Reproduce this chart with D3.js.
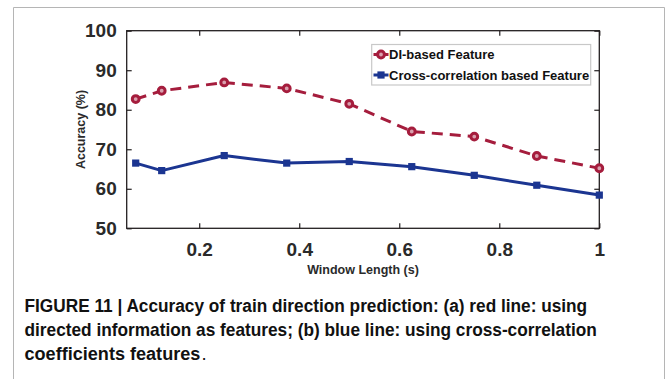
<!DOCTYPE html>
<html>
<head>
<meta charset="utf-8">
<script src="https://cdn.jsdelivr.net/npm/d3@7"></script>
<style>
  html, body { margin: 0; padding: 0; background: #fff; }
  svg { display: block; }
</style>
</head>
<body>
<svg id="fig" width="669" height="379"></svg>
<script>
// Window lengths (s) and accuracies (%) for both feature sets
const windowLength = [0.073, 0.125, 0.25, 0.375, 0.5, 0.625, 0.75, 0.875, 1];
const diAccuracy = [82.7, 84.8, 86.9, 85.4, 81.5, 74.5, 73.2, 68.3, 65.2];
const xcorrAccuracy = [66.5, 64.6, 68.4, 66.5, 66.9, 65.6, 63.4, 60.9, 58.4];
const seriesNames = ["DI-based Feature", "Cross-correlation based Feature"];
const xTicks = [0.2, 0.4, 0.6, 0.8, 1];
const yTicks = [50, 60, 70, 80, 90, 100];
const captionLines = [
  "FIGURE 11 | Accuracy of train direction prediction: (a) red line: using",
  "directed information as features; (b) blue line: using cross-correlation",
  "coefficients features"
];

const RED = "#a51d3d";
const BLUE = "#1b3591";
const INK = "#231f20";
const FONT = "'Liberation Sans', Arial, sans-serif";

const svg = d3.select("#fig");

// outer figure frame (open at the bottom)
svg.append("path")
  .attr("d", "M13.5,379 V7.5 H664.5 V379")
  .attr("fill", "none")
  .attr("stroke", "#b5b5b5")
  .attr("stroke-width", 1);

const plot = { left: 126.7, right: 599.3, top: 30.7, bottom: 228.3 };

const x = d3.scaleLinear().domain([0.055, 1]).range([plot.left, plot.right]);
const y = d3.scaleLinear().domain([50, 100]).range([plot.bottom, plot.top]);

const g = svg.append("g");

// axes with inward ticks on all four sides
const tickLen = 5;
g.append("g")
  .attr("transform", `translate(0,${plot.bottom})`)
  .call(d3.axisBottom(x).tickValues(xTicks).tickSize(-tickLen).tickPadding(14)
    .tickFormat(d => d === 1 ? "1" : d3.format(".1f")(d)))
  .call(a => a.select(".domain").remove())
  .call(a => a.selectAll("text").attr("dy", "0.71em"));
g.append("g")
  .attr("transform", `translate(0,${plot.top})`)
  .call(d3.axisTop(x).tickValues(xTicks).tickSize(-tickLen).tickFormat(""))
  .call(a => a.select(".domain").remove());
g.append("g")
  .attr("transform", `translate(${plot.left},0)`)
  .call(d3.axisLeft(y).tickValues(yTicks).tickSize(-tickLen).tickPadding(10))
  .call(a => a.select(".domain").remove());
g.append("g")
  .attr("transform", `translate(${plot.right},0)`)
  .call(d3.axisRight(y).tickValues(yTicks).tickSize(-tickLen).tickFormat(""))
  .call(a => a.select(".domain").remove());

g.selectAll(".tick line").attr("stroke", INK).attr("stroke-width", 1.2);
g.selectAll(".tick text")
  .attr("fill", "#2a2a2a")
  .style("font-family", FONT)
  .style("font-weight", "bold")
  .style("font-size", "19px");

// plot box
g.append("rect")
  .attr("x", plot.left).attr("y", plot.top)
  .attr("width", plot.right - plot.left).attr("height", plot.bottom - plot.top)
  .attr("fill", "none").attr("stroke", INK).attr("stroke-width", 1.3);

// axis titles
svg.append("text")
  .attr("x", (plot.left + plot.right) / 2).attr("y", 273.5)
  .attr("text-anchor", "middle")
  .attr("fill", "#2a2a2a")
  .style("font-family", FONT)
  .style("font-weight", "bold").style("font-size", "12.5px")
  .text("Window Length (s)");
svg.append("text")
  .attr("transform", `translate(85,${(plot.top + plot.bottom) / 2}) rotate(-90)`)
  .attr("text-anchor", "middle")
  .attr("fill", "#2a2a2a")
  .style("font-family", FONT)
  .style("font-weight", "bold").style("font-size", "12.5px")
  .text("Accuracy (%)");

// series
const line = d3.line().x(d => x(d[0])).y(d => y(d[1]));
const redData = windowLength.map((w, i) => [w, diAccuracy[i]]);
const blueData = windowLength.map((w, i) => [w, xcorrAccuracy[i]]);

g.append("path").datum(blueData).attr("d", line)
  .attr("fill", "none").attr("stroke", BLUE).attr("stroke-width", 3)
  .attr("stroke-linejoin", "round");
g.append("path").datum(redData).attr("d", line)
  .attr("fill", "none").attr("stroke", RED).attr("stroke-width", 3)
  .attr("stroke-dasharray", "11,7");

function redMarker(sel) {
  sel.attr("r", 3.4).attr("fill", "#d9a0ae").attr("stroke", RED).attr("stroke-width", 3);
}
function blueMarker(sel, s) {
  sel.attr("width", s).attr("height", s).attr("fill", BLUE);
}

g.selectAll(".blueMark").data(blueData).join("rect")
  .attr("class", "blueMark")
  .attr("x", d => x(d[0]) - 3.6).attr("y", d => y(d[1]) - 3.6)
  .call(blueMarker, 7.2);
g.selectAll(".redMark").data(redData).join("circle")
  .attr("class", "redMark")
  .attr("cx", d => x(d[0])).attr("cy", d => y(d[1]))
  .call(redMarker);

// legend
const lg = svg.append("g");
lg.append("rect")
  .attr("x", 371.7).attr("y", 44.5).attr("width", 219).attr("height", 40.5)
  .attr("fill", "#fff").attr("stroke", "#c8c8c8").attr("stroke-width", 1.2);
const legendRows = [
  { name: seriesNames[0], color: RED, cy: 54.5, kind: "circle" },
  { name: seriesNames[1], color: BLUE, cy: 75, kind: "square" }
];
legendRows.forEach(r => {
  lg.append("line")
    .attr("x1", 373.5).attr("x2", 388.5).attr("y1", r.cy).attr("y2", r.cy)
    .attr("stroke", r.color).attr("stroke-width", 3);
  if (r.kind === "circle") {
    lg.append("circle").attr("cx", 381).attr("cy", r.cy).call(redMarker);
  } else {
    lg.append("rect").attr("x", 381 - 3.6).attr("y", r.cy - 3.6).call(blueMarker, 7.2);
  }
  lg.append("text")
    .attr("x", 389).attr("y", r.cy + 4.8)
    .attr("fill", "#111")
    .style("font-family", FONT)
    .style("font-weight", "bold").style("font-size", "13px")
    .text(r.name);
});

// caption, set in a horizontally condensed bold face;
// the closing period is set in regular weight
const capWidths = [563, 573, 176];
const capX = 24.5;
const capY = i => 311.7 + i * 24.3;
captionLines.forEach((t, i) => {
  const txt = svg.append("text")
    .attr("fill", "#111")
    .style("font-family", FONT)
    .style("font-weight", "bold").style("font-size", "18.5px")
    .text(t);
  const natural = txt.node().getComputedTextLength();
  txt.attr("transform", `translate(${capX},${capY(i)}) scale(${capWidths[i] / natural},1)`);
});
const last = captionLines.length - 1;
svg.append("text")
  .attr("x", capX + capWidths[last] + 1).attr("y", capY(last))
  .attr("fill", "#111")
  .style("font-family", FONT)
  .style("font-size", "18.5px")
  .text(".");
</script>
</body>
</html>
